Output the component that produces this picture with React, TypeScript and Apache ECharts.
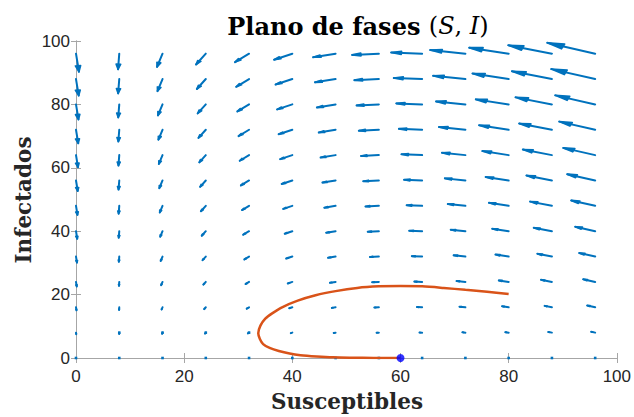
import React, { useEffect, useRef } from "react";
import * as echarts from "echarts";

// Quiver grid (susceptibles along x, infected along y)
const S_GRID = [0, 8, 16, 24, 32, 40, 48, 56, 64, 72, 80, 88, 96];
const I_GRID = [0, 8, 16, 24, 32, 40, 48, 56, 64, 72, 80, 88, 96];

// Plotted arrow components in axis units; one row per I_GRID value, one column per S_GRID value
const U_ROWS = [
  [0, 0, 0, 0, 0, 0, 0, 0, 0, 0, 0, 0, 0],
  [0.046, -0.019, -0.085, -0.15, -0.216, -0.281, -0.346, -0.412, -0.477, -0.543, -0.608, -0.673, -0.738],
  [0.092, -0.038, -0.17, -0.3, -0.432, -0.562, -0.692, -0.823, -0.953, -1.085, -1.215, -1.345, -1.477],
  [0.138, -0.058, -0.255, -0.45, -0.648, -0.843, -1.038, -1.235, -1.43, -1.628, -1.823, -2.018, -2.215],
  [0.183, -0.077, -0.34, -0.6, -0.863, -1.123, -1.383, -1.647, -1.907, -2.17, -2.43, -2.69, -2.953],
  [0.229, -0.096, -0.425, -0.75, -1.079, -1.404, -1.729, -2.058, -2.383, -2.713, -3.038, -3.363, -3.692],
  [0.275, -0.115, -0.51, -0.9, -1.295, -1.685, -2.075, -2.47, -2.86, -3.255, -3.645, -4.035, -4.43],
  [0.321, -0.134, -0.595, -1.05, -1.511, -1.966, -2.421, -2.882, -3.337, -3.798, -4.253, -4.708, -5.168],
  [0.367, -0.153, -0.68, -1.2, -1.727, -2.247, -2.767, -3.293, -3.813, -4.34, -4.86, -5.38, -5.907],
  [0.413, -0.173, -0.765, -1.35, -1.943, -2.528, -3.113, -3.705, -4.29, -4.883, -5.468, -6.053, -6.645],
  [0.458, -0.192, -0.85, -1.5, -2.158, -2.808, -3.458, -4.117, -4.767, -5.425, -6.075, -6.725, -7.383],
  [0.504, -0.211, -0.935, -1.65, -2.374, -3.089, -3.804, -4.528, -5.243, -5.968, -6.683, -7.398, -8.122],
  [0.55, -0.23, -1.02, -1.8, -2.59, -3.37, -4.15, -4.94, -5.72, -6.51, -7.29, -8.07, -8.86],
];
const V_ROWS = [
  [0, 0, 0, 0, 0, 0, 0, 0, 0, 0, 0, 0, 0],
  [-0.475, -0.412, -0.348, -0.285, -0.222, -0.158, -0.095, -0.032, 0.032, 0.095, 0.158, 0.222, 0.285],
  [-0.95, -0.823, -0.697, -0.57, -0.443, -0.317, -0.19, -0.063, 0.063, 0.19, 0.317, 0.443, 0.57],
  [-1.425, -1.235, -1.045, -0.855, -0.665, -0.475, -0.285, -0.095, 0.095, 0.285, 0.475, 0.665, 0.855],
  [-1.9, -1.647, -1.393, -1.14, -0.887, -0.633, -0.38, -0.127, 0.127, 0.38, 0.633, 0.887, 1.14],
  [-2.375, -2.058, -1.742, -1.425, -1.108, -0.792, -0.475, -0.158, 0.158, 0.475, 0.792, 1.108, 1.425],
  [-2.85, -2.47, -2.09, -1.71, -1.33, -0.95, -0.57, -0.19, 0.19, 0.57, 0.95, 1.33, 1.71],
  [-3.325, -2.882, -2.438, -1.995, -1.552, -1.108, -0.665, -0.222, 0.222, 0.665, 1.108, 1.552, 1.995],
  [-3.8, -3.293, -2.787, -2.28, -1.773, -1.267, -0.76, -0.253, 0.253, 0.76, 1.267, 1.773, 2.28],
  [-4.275, -3.705, -3.135, -2.565, -1.995, -1.425, -0.855, -0.285, 0.285, 0.855, 1.425, 1.995, 2.565],
  [-4.75, -4.117, -3.483, -2.85, -2.217, -1.583, -0.95, -0.317, 0.317, 0.95, 1.583, 2.217, 2.85],
  [-5.225, -4.528, -3.832, -3.135, -2.438, -1.742, -1.045, -0.348, 0.348, 1.045, 1.742, 2.438, 3.135],
  [-5.7, -4.94, -4.18, -3.42, -2.66, -1.9, -1.14, -0.38, 0.38, 1.14, 1.9, 2.66, 3.42],
];

// Solution trajectory in the (S, I) plane
const TRAJ_S = [80, 76, 72, 68, 64, 60, 56, 52, 48, 44.3, 41, 38.1, 36.2, 35.0, 34.1, 33.7, 34.0, 34.6, 35.8, 37.5, 39.5, 41.5, 44.5, 47.5, 51, 55, 60];
const TRAJ_I = [20.2, 20.9, 21.5, 22.1, 22.6, 22.75, 22.6, 22.1, 21.1, 19.8, 18.1, 16.0, 14.0, 12.4, 10.2, 7.8, 6.0, 4.4, 3.2, 2.2, 1.4, 0.9, 0.5, 0.22, 0.1, 0.03, 0];

// Disease-free equilibrium point
const EQUILIBRIUM_S = [60];
const EQUILIBRIUM_I = [0];

const AXIS_MIN = 0;
const AXIS_MAX = 100;
const AXIS_STEP = 20;

const ARROW_COLOR = "#0072BD";
const AXIS_COLOR = "#a6a6a6";
const TEXT_COLOR = "#262626";

export default function App() {
  const ref = useRef<HTMLDivElement>(null);

  useEffect(() => {
    if (!ref.current) return;
    const chart = echarts.init(ref.current, undefined, { renderer: "svg" });

    const quiverData: number[][] = [];
    I_GRID.forEach((iv, r) => {
      S_GRID.forEach((sv, c) => {
        quiverData.push([sv, iv, U_ROWS[r][c], V_ROWS[r][c]]);
      });
    });

    const trajData = TRAJ_S.map((s, k) => [s, TRAJ_I[k]]);
    const eqData = EQUILIBRIUM_S.map((s, k) => [s, EQUILIBRIUM_I[k]]);

    // arrowhead length and half-width, relative to the arrow (quiver convention)
    const headAlpha = 0.33;
    const headBeta = 0.26;

    const tickStyle = { inside: true, length: 5, lineStyle: { color: AXIS_COLOR, width: 1 } };
    const lineStyle = { show: true, lineStyle: { color: AXIS_COLOR, width: 1 } };
    const labelStyle = {
      color: TEXT_COLOR,
      fontFamily: "Liberation Sans, Arial, sans-serif",
      fontSize: 17,
    };

    const option: any = {
      animation: false,
      backgroundColor: "#ffffff",
      grid: { left: 76, right: 15, top: 41, bottom: 59, containLabel: false },
      xAxis: [
        {
          type: "value",
          min: AXIS_MIN,
          max: AXIS_MAX,
          interval: AXIS_STEP,
          position: "bottom",
          axisLine: lineStyle,
          axisTick: tickStyle,
          splitLine: { show: false },
          axisLabel: { ...labelStyle, margin: 10 },
        },
        {
          type: "value",
          min: AXIS_MIN,
          max: AXIS_MAX,
          interval: AXIS_STEP,
          position: "top",
          axisLine: lineStyle,
          axisTick: tickStyle,
          splitLine: { show: false },
          axisLabel: { show: false },
        },
      ],
      yAxis: [
        {
          type: "value",
          min: AXIS_MIN,
          max: AXIS_MAX,
          interval: AXIS_STEP,
          position: "left",
          axisLine: lineStyle,
          axisTick: tickStyle,
          splitLine: { show: false },
          axisLabel: { ...labelStyle, margin: 6 },
        },
        {
          type: "value",
          min: AXIS_MIN,
          max: AXIS_MAX,
          interval: AXIS_STEP,
          position: "right",
          axisLine: lineStyle,
          axisTick: tickStyle,
          splitLine: { show: false },
          axisLabel: { show: false },
        },
      ],
      graphic: [
        {
          type: "text",
          x: 358,
          y: 26,
          style: {
            text: "{b|Plano de fases }{m|(}{i|S}{m|, }{i|I}{m|)}",
            align: "center",
            verticalAlign: "middle",
            rich: {
              b: { fontFamily: "DejaVu Serif", fontWeight: "bold", fontSize: 24, fill: "#000" },
              m: { fontFamily: "DejaVu Serif", fontSize: 24, fill: "#000" },
              i: { fontFamily: "DejaVu Serif", fontStyle: "italic", fontSize: 24, fill: "#000" },
            },
          },
        },
        {
          type: "text",
          x: 347,
          y: 401,
          style: {
            text: "Susceptibles",
            fontFamily: "DejaVu Serif",
            fontWeight: "bold",
            fontSize: 21.5,
            fill: TEXT_COLOR,
            align: "center",
            verticalAlign: "middle",
          },
        },
        {
          type: "text",
          x: 23,
          y: 200,
          rotation: Math.PI / 2,
          style: {
            text: "Infectados",
            fontFamily: "DejaVu Serif",
            fontWeight: "bold",
            fontSize: 21.5,
            fill: TEXT_COLOR,
            align: "center",
            verticalAlign: "middle",
          },
        },
      ],
      series: [
        {
          type: "custom",
          xAxisIndex: 0,
          yAxisIndex: 0,
          clip: false,
          data: quiverData,
          renderItem: (params: any, api: any) => {
            const s = api.value(0);
            const i = api.value(1);
            const u = api.value(2);
            const v = api.value(3);
            const p0 = api.coord([s, i]);
            const p1 = api.coord([s + u, i + v]);
            const h1 = api.coord([
              s + u - headAlpha * (u + headBeta * v),
              i + v - headAlpha * (v - headBeta * u),
            ]);
            const h2 = api.coord([
              s + u - headAlpha * (u - headBeta * v),
              i + v - headAlpha * (v + headBeta * u),
            ]);
            const stroke = {
              stroke: ARROW_COLOR,
              lineWidth: 2,
              lineCap: "round",
              lineJoin: "round",
            };
            const len = Math.hypot(p1[0] - p0[0], p1[1] - p0[1]);
            const children: any[] = [
              { type: "polyline", shape: { points: [p0, p1] }, style: { ...stroke, fill: null } },
              { type: "polygon", shape: { points: [h1, p1, h2] }, style: { ...stroke, lineWidth: 1.6, fill: ARROW_COLOR } },
            ];
            if (len < 1.5) {
              children.push({
                type: "rect",
                shape: { x: p0[0] - 1.3, y: p0[1] - 1.3, width: 2.6, height: 2.6 },
                style: { fill: ARROW_COLOR },
              });
            }
            return { type: "group", children };
          },
          z: 2,
        },
        {
          type: "line",
          xAxisIndex: 0,
          yAxisIndex: 0,
          data: trajData,
          smooth: 0.3,
          showSymbol: false,
          symbol: "none",
          lineStyle: { color: "#D95319", width: 2.5 },
          z: 3,
        },
        {
          type: "scatter",
          xAxisIndex: 0,
          yAxisIndex: 0,
          data: eqData,
          symbol: "circle",
          symbolSize: 8,
          itemStyle: { color: "#0000FF" },
          z: 4,
        },
      ],
    };

    chart.setOption(option);
    return () => chart.dispose();
  }, []);

  return (
    <div
      ref={ref}
      style={{ position: "fixed", left: 0, top: 0, width: 634, height: 417, background: "#fff" }}
    />
  );
}
